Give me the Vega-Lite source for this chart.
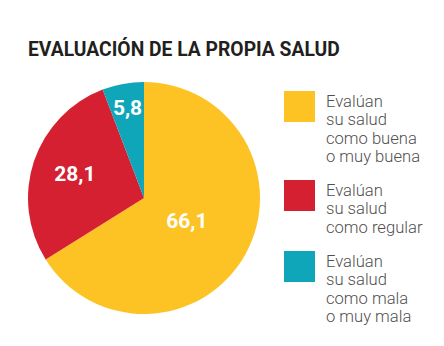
{
  "$schema": "https://vega.github.io/schema/vega-lite/v6.json",
  "width": 232,
  "height": 232,
  "autosize": {"type": "none"},
  "padding": {"left": 28, "top": 82, "right": 184, "bottom": 32},
  "background": "white",
  "config": {
    "view": {"stroke": null},
    "locale": {"number": {"decimal": ",", "thousands": ".", "grouping": [3], "currency": ["", " €"]}}
  },
  "title": {
    "text": "EVALUACIÓN DE LA PROPIA SALUD",
    "anchor": "start",
    "frame": "group",
    "font": "Roboto",
    "fontSize": 19.3,
    "fontWeight": "bold",
    "color": "#231f20",
    "offset": 22
  },
  "data": {
    "values": [
      {"categoria": "Evalúan\nsu salud\ncomo buena\no muy buena", "valor": 66.1},
      {"categoria": "Evalúan\nsu salud\ncomo regular", "valor": 28.1},
      {"categoria": "Evalúan\nsu salud\ncomo mala\no muy mala", "valor": 5.8}
    ]
  },
  "encoding": {
    "theta": {"field": "valor", "type": "quantitative", "stack": true},
    "order": {"field": "valor", "type": "quantitative", "sort": "descending"}
  },
  "layer": [
    {
      "mark": {"type": "arc", "stroke": null},
      "encoding": {
        "color": {
          "field": "categoria",
          "type": "nominal",
          "sort": null,
          "scale": {
            "domain": ["Evalúan\nsu salud\ncomo buena\no muy buena", "Evalúan\nsu salud\ncomo regular", "Evalúan\nsu salud\ncomo mala\no muy mala"],
            "range": ["#fdc325", "#d42030", "#10a6ba"]
          },
          "legend": {
            "title": null,
            "orient": "none",
            "legendX": 256,
            "legendY": 9,
            "padding": 0,
            "symbolType": "square",
            "symbolSize": 960,
            "symbolStrokeWidth": 0,
            "symbolOpacity": 1,
            "labelFont": "Roboto",
            "labelFontSize": 16.6,
            "labelFontWeight": 300,
            "labelColor": "#505050",
            "labelOffset": 11,
            "labelLimit": 200,
            "labelBaseline": "alphabetic",
            "rowPadding": 14,
            "labelExpr": "split(datum.label, '\\n')",
            "encode": {
              "labels": {"update": {"dy": {"value": -4}, "lineHeight": {"value": 18.3}}}
            }
          }
        }
      }
    },
    {
      "mark": {"type": "text", "radius": 49, "font": "Roboto", "fontSize": 21, "fontWeight": "bold", "color": "white"},
      "encoding": {
        "text": {"condition": {"test": "datum.valor > 50", "field": "valor", "type": "quantitative", "format": ".1f"}, "value": ""}
      }
    },
    {
      "mark": {"type": "text", "radius": 73, "font": "Roboto", "fontSize": 21, "fontWeight": "bold", "color": "white"},
      "encoding": {
        "text": {"condition": {"test": "datum.valor > 20 && datum.valor < 50", "field": "valor", "type": "quantitative", "format": ".1f"}, "value": ""}
      }
    },
    {
      "mark": {"type": "text", "radius": 91, "font": "Roboto", "fontSize": 21, "fontWeight": "bold", "color": "white"},
      "encoding": {
        "text": {"condition": {"test": "datum.valor < 20", "field": "valor", "type": "quantitative", "format": ".1f"}, "value": ""}
      }
    }
  ]
}
